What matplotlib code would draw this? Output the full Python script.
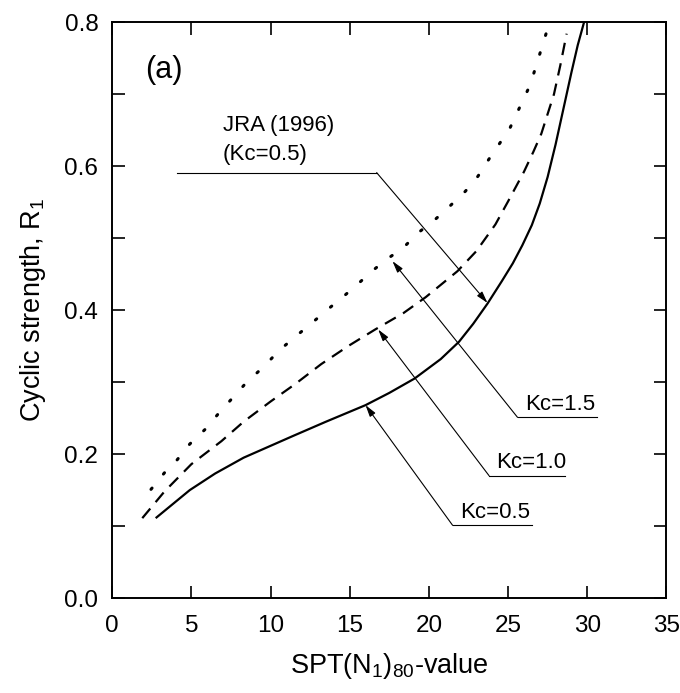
import matplotlib
matplotlib.use("Agg")
import matplotlib.pyplot as plt

plt.rcParams['font.family'] = ['Liberation Sans', 'DejaVu Sans']
plt.rcParams['mathtext.default'] = 'regular'
plt.rcParams['lines.scale_dashes'] = False

# curve data: SPT (N1)80 vs cyclic strength R1
kc05_x = [2.8, 4.9, 6.5, 8.3, 11.4, 13.5, 16.0, 17.5, 19.1, 20.75, 21.9, 22.8, 23.7,
          24.6, 25.3, 25.9, 26.5, 27.0, 27.5, 28.0, 28.5, 29.0, 29.4, 29.8]
kc05_y = [0.112, 0.150, 0.173, 0.195, 0.225, 0.245, 0.268, 0.285, 0.305, 0.332, 0.356, 0.381, 0.409,
          0.440, 0.465, 0.490, 0.518, 0.548, 0.585, 0.630, 0.680, 0.730, 0.768, 0.800]

kc10_x = [1.9, 3.3, 5.0, 6.9, 8.3, 10.0, 11.6, 13.2, 14.9, 16.6, 18.4, 19.8, 21.8,
          23.0, 24.2, 25.0, 26.0, 26.6, 27.1, 27.9, 28.3, 28.7]
kc10_y = [0.111, 0.148, 0.186, 0.218, 0.245, 0.273, 0.298, 0.325, 0.350, 0.373, 0.396, 0.418, 0.454,
          0.482, 0.519, 0.551, 0.592, 0.620, 0.645, 0.700, 0.740, 0.784]

kc15_x = [2.45, 3.3, 4.1, 4.9, 5.9, 6.7, 7.6, 8.5, 9.6, 10.5, 11.5, 12.5, 13.5, 14.5, 15.5,
          16.4, 17.3, 18.4, 19.3, 20.4, 21.3, 22.3, 23.1, 23.8, 25.1, 26.4, 27.4]
kc15_y = [0.151, 0.174, 0.192, 0.214, 0.235, 0.256, 0.278, 0.300, 0.322, 0.343, 0.362, 0.380, 0.399,
          0.417, 0.436, 0.454, 0.470, 0.487, 0.507, 0.526, 0.544, 0.565, 0.586, 0.610, 0.652, 0.713, 0.784]

# label, knee of the leader line, end of underline, arrow target
labels = ['Kc=1.5', 'Kc=1.0', 'Kc=0.5']
knees = [(25.6, 0.251), (23.8, 0.170), (21.5, 0.101)]
line_ends = [30.6, 28.6, 26.5]
targets = [(17.7, 0.468), (16.8, 0.373), (16.0, 0.268)]

fig = plt.figure(figsize=(6.8, 6.93), dpi=100)
ax = fig.add_axes([0.165, 0.137, 0.815, 0.831])

ax.plot(kc05_x, kc05_y, color='black', lw=1.6)
ax.plot(kc10_x, kc10_y, color='black', lw=1.6, linestyle=(0, (9, 6)))
ax.plot(kc15_x, kc15_y, color='black', lw=2.2, linestyle=(0, (1.2, 13)), dash_capstyle='round')

arrow = dict(arrowstyle='-|>,head_length=0.7,head_width=0.2', color='black', lw=0.8,
             shrinkA=0, shrinkB=0)

for lab, (kx, ky), xe, tgt in zip(labels, knees, line_ends, targets):
    ax.plot([kx, xe], [ky, ky], color='black', lw=0.8)
    ax.annotate('', xy=tgt, xytext=(kx, ky), arrowprops=arrow)
    ax.text(kx + 0.45, ky + 0.01, lab, fontsize=16, ha='left', va='baseline')

# JRA (1996) leader
ax.plot([4.1, 16.7], [0.591, 0.591], color='black', lw=0.8)
ax.annotate('', xy=(23.7, 0.410), xytext=(16.7, 0.591), arrowprops=arrow)
ax.text(7.0, 0.649, 'JRA (1996)', fontsize=16, ha='left', va='baseline')
ax.text(7.0, 0.608, '(Kc=0.5)', fontsize=16, ha='left', va='baseline')
ax.text(2.1, 0.733, '(a)', fontsize=22, ha='left', va='center')

ax.set_xlim(0, 35)
ax.set_ylim(0, 0.8)
ax.set_xticks(range(0, 36, 5))
ax.set_yticks([0.0, 0.2, 0.4, 0.6, 0.8])
ax.set_yticks([0.1, 0.3, 0.5, 0.7], minor=True)
ax.set_yticklabels(['0.0', '0.2', '0.4', '0.6', '0.8'])
ax.tick_params(which='both', direction='in', top=True, right=True, length=9, width=1.2,
               labelsize=17.5)
ax.tick_params(axis='x', pad=12)
ax.tick_params(axis='y', pad=10)
for sp in ax.spines.values():
    sp.set_linewidth(1.4)

ax.set_xlabel('SPT(N$_1$)$_{80}$-value', fontsize=19.5, labelpad=10)
ax.set_ylabel('Cyclic strength, R$_1$', fontsize=19.5, labelpad=12)

fig.savefig('out.png', dpi=100)
